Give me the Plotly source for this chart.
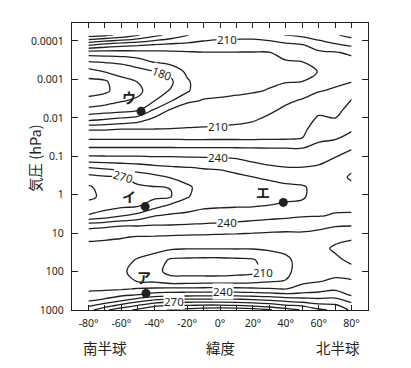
import numpy as np
import plotly.graph_objects as go

# ---------------- data ----------------
latitudes = [-80, -70, -60, -50, -40, -30, -20, -10, 0, 10, 20, 30, 40, 50, 60, 70, 80]
log10_pressure_levels = [-4.15, -3.9, -3.7, -3.45, -3.2, -2.95, -2.7, -2.45, -2.2, -1.95,
                         -1.7, -1.45, -1.2, -0.95, -0.7, -0.45, -0.2, 0.05, 0.3, 0.55,
                         0.8, 1.1, 1.4, 1.7, 2.0, 2.25, 2.45, 2.6, 2.75, 2.9, 3.0]

# temperature (K) profiles, one per latitude, top (low pressure) to bottom
temp_80S = [255, 221.7, 195.3, 179, 165.9, 157.5, 156.7, 162.4, 173.6, 188.2, 209.2, 219.6, 231.3, 242.9, 260.4, 273.9, 281.25, 282.4, 276, 269.1, 243.75, 231.3, 228, 225.8, 225, 225.7, 228.6, 232.2, 238.7, 249.6, 256]
temp_70S = [252, 216.7, 195.5, 180.5, 170.4, 158.5, 158, 165.6, 175, 190.8, 209.3, 219.6, 231.3, 242.6, 258.5, 271.8, 276.3, 277.4, 273.3, 265.8, 242.2, 231, 227.5, 225.5, 225, 226, 228.5, 234, 242.5, 256.7, 268]
temp_60S = [248, 213.3, 196, 181.9, 173.1, 167.4, 164.9, 169.1, 176.7, 193.1, 210.3, 219.6, 231.3, 242.5, 256.7, 270.4, 273.9, 274.7, 271.5, 260.5, 240.5, 230.6, 226, 223, 221.5, 223.5, 229, 237.2, 249.1, 265, 276]
temp_50S = [241, 211.4, 196.7, 185.3, 176.1, 170.3, 167, 171.9, 178.9, 196.25, 210.3, 219.6, 231.3, 242.3, 255, 265.9, 271.6, 273.8, 270.5, 256.2, 240.5, 229.5, 224, 219.25, 217, 219.3, 230.6, 239.5, 255.6, 272.2, 282]
temp_40S = [233, 209.6, 197.4, 190.3, 179.6, 177.3, 177, 179.5, 191.2, 202.9, 210.3, 219.6, 231.3, 241.7, 252.9, 263, 270.4, 272.5, 263.3, 250.3, 239.7, 229.3, 222.3, 216.9, 213.4, 218.5, 231.5, 244, 261.4, 279.5, 287]
temp_30S = [227, 207.9, 198.2, 193.1, 182.3, 178.4, 180.6, 188.9, 201.3, 205.7, 210.4, 219.6, 231.3, 241.6, 251.4, 259.6, 269.8, 270.5, 257.1, 248.3, 239.6, 228.75, 221.25, 208.3, 206.7, 214.6, 232.3, 245, 264, 282.7, 291]
temp_20S = [220.5, 207.2, 199, 195.6, 192.1, 188.8, 188.5, 198.8, 203.2, 206.8, 210.7, 219.3, 231.2, 241.2, 250.5, 257.3, 261.2, 260.8, 255, 247, 239.2, 228.2, 220.5, 207.75, 206.1, 215, 232.3, 245.6, 264.3, 282.2, 294]
temp_10S = [215, 206.7, 199.6, 198, 196.3, 195.5, 197.9, 200.4, 203.7, 207.1, 211, 219.3, 231.2, 240.9, 249.6, 253.6, 257.3, 255.1, 251.6, 246, 238.5, 228, 220.5, 207.4, 205.4, 215.5, 232.5, 246, 264.3, 283.75, 296]
temp_EQ = [213, 206.2, 199.6, 197.3, 195.1, 195.6, 198.1, 200.9, 204.2, 207.4, 211.6, 219.4, 231.2, 240.7, 249.3, 252.6, 255.6, 253.7, 250.9, 245.4, 238, 227.6, 220.5, 207.4, 205.4, 215.5, 232.5, 246, 264.3, 283.75, 297]
temp_10N = [213, 206, 199.6, 197.7, 195.4, 196.4, 198.8, 201.5, 204.7, 207.8, 212.3, 219.4, 231, 239.7, 247.1, 252, 254, 253.3, 250.6, 244.7, 237.2, 227.3, 220.5, 208.1, 206.7, 215.5, 232.5, 246, 263.75, 282.5, 297]
temp_20N = [213, 205.7, 199.6, 198.1, 196.6, 197.3, 199.4, 202.4, 205.7, 209.1, 213.9, 219.3, 230.8, 237.4, 243.9, 250.3, 254.1, 255.1, 250.4, 243.9, 236.2, 227, 220.5, 208.9, 207.6, 216.7, 231.7, 245, 262.5, 280.4, 295]
temp_30N = [215, 206.25, 199.8, 198.9, 198, 199, 200.4, 204.2, 208.3, 212.2, 215.9, 219.6, 230.6, 236, 241.5, 248, 254.3, 255.5, 249.25, 243, 235, 226.7, 221, 215.6, 214, 219, 230.8, 244, 260.5, 277, 291]
temp_40N = [220.5, 207.8, 201.6, 199.6, 199, 199.6, 202.4, 208.3, 211.9, 214.5, 217.1, 219.7, 230.6, 235.3, 240.4, 246, 252.1, 253.4, 247.4, 242.1, 234, 226.7, 221.7, 218.5, 217.6, 220.4, 229.5, 242, 257, 273, 285]
temp_50N = [222, 209.6, 205, 199.8, 199, 199.9, 205.9, 210.9, 213.2, 215.5, 217.7, 220.3, 230.4, 235, 240.4, 246, 251, 251.5, 247, 240.8, 232.6, 228, 225.4, 222.9, 224.7, 228, 233.1, 242.9, 255, 270.5, 279]
temp_60N = [225, 215.3, 208.3, 204.6, 200.1, 205.5, 209.6, 214, 217.9, 221.7, 225.1, 228.6, 232.7, 237.3, 241.2, 244.1, 247, 244.7, 242.3, 240.4, 231.7, 227.3, 224.1, 223.1, 226.6, 229.4, 236, 243.3, 253.3, 264.2, 272]
temp_70N = [229, 218.8, 209.3, 206, 205.2, 208.2, 211.2, 214.3, 217.3, 220.6, 225.3, 229.6, 235, 240.4, 243.9, 247, 245, 243.3, 241.6, 239.3, 230.7, 223.8, 218, 222.9, 227.1, 231.7, 238.3, 245, 253.3, 262.7, 268]
temp_80N = [233, 221.7, 211.6, 207, 206.3, 209.5, 215.1, 220.6, 223.3, 226.1, 228.9, 233.6, 239.5, 244.2, 248.7, 251.1, 248, 245.2, 242.4, 238.6, 230.4, 221.9, 215.1, 217.2, 224.6, 231.1, 235.3, 238.5, 247.3, 254.4, 258]

# labelled isotherms
label_text = ["210", "180", "210", "240", "270", "240", "210", "240", "270"]
label_lat = [4.5, -35, -1, -1.5, -59, 4, 26, 2, -28]
label_log10p = [-4.03, -3.16, -1.78, -0.97, -0.47, 0.73, 2.02, 2.53, 2.79]
label_angle = [0, 20, 0, 0, 15, 0, 0, 0, 0]

# marked points ア イ ウ エ
point_name = ["ア", "イ", "ウ", "エ"]
point_lat = [-45, -45.5, -48, 38.5]
point_log10p = [2.57, 0.31, -2.17, 0.2]
point_name_lat = [-46.5, -55.5, -55.5, 26]
point_name_log10p = [2.13, 0.03, -2.55, -0.08]

x_ticks = [-80, -70, -60, -50, -40, -30, -20, -10, 0, 10, 20, 30, 40, 50, 60, 70, 80]
x_tick_text = ["-80°", "", "-60°", "", "-40°", "", "-20°", "", "0°", "", "20°", "", "40°", "", "60°", "", "80°"]
y_ticks = [1e-4, 1e-3, 1e-2, 1e-1, 1, 10, 100, 1000]
y_tick_text = ["0.0001", "0.001", "0.01", "0.1", "1", "10", "100", "1000"]

# ---------------- figure ----------------
columns = [temp_80S, temp_70S, temp_60S, temp_50S, temp_40S, temp_30S, temp_20S, temp_10S, temp_EQ,
           temp_10N, temp_20N, temp_30N, temp_40N, temp_50N, temp_60N, temp_70N, temp_80N]
z = np.array(columns).T
pressure = [10 ** v for v in log10_pressure_levels]

INK = "#231f20"
fig = go.Figure()
fig.add_trace(go.Contour(
    x=latitudes, y=pressure, z=z,
    contours=dict(coloring="lines", start=150, end=290, size=10, showlabels=False),
    colorscale=[[0, INK], [1, INK]], showscale=False,
    line=dict(width=1.3, smoothing=1.0),
    hoverinfo="skip",
))
fig.add_trace(go.Scatter(
    x=point_lat, y=[10 ** v for v in point_log10p], mode="markers",
    marker=dict(size=9, color=INK), hoverinfo="skip", showlegend=False,
))

annotations = []
for t, la, lp, ang in zip(label_text, label_lat, label_log10p, label_angle):
    annotations.append(dict(x=la, y=lp, xref="x", yref="y", text=t, showarrow=False,
                            textangle=ang, bgcolor="white", borderpad=0,
                            font=dict(family="Noto Sans", size=11.5, color=INK)))
for t, la, lp in zip(point_name, point_name_lat, point_name_log10p):
    annotations.append(dict(x=la, y=lp, xref="x", yref="y", text="<b>" + t + "</b>", showarrow=False,
                            font=dict(family="Noto Sans CJK JP", size=14, color=INK)))
for t, xp in [("南半球", -70), ("緯度", 0), ("北半球", 71.5)]:
    annotations.append(dict(x=xp, y=-0.13, xref="x", yref="paper", text=t, showarrow=False,
                            yanchor="middle",
                            font=dict(family="Noto Sans CJK JP", size=14.5, color=INK)))
annotations.append(dict(x=-0.125, y=0.53, xref="paper", yref="paper", text="気圧 (hPa)",
                        textangle=-90, showarrow=False, xanchor="center", yanchor="middle",
                        font=dict(family="Noto Sans CJK JP", size=14.5, color=INK)))

# the page body adds an 8 px margin, so the figure is 8 px smaller and shifted
fig.update_layout(
    width=403, height=360,
    margin=dict(l=64, r=43, t=15, b=58),
    paper_bgcolor="white", plot_bgcolor="white",
    showlegend=False,
    annotations=annotations,
    font=dict(family="Noto Sans", size=10.5, color=INK),
)
fig.update_xaxes(range=[-90, 90], tickvals=x_ticks, ticktext=x_tick_text,
                 ticks="inside", ticklen=5, tickwidth=1, tickcolor=INK,
                 showline=True, linecolor=INK, linewidth=1.3, mirror="ticks",
                 showgrid=False, zeroline=False, ticklabelstandoff=3)
fig.update_yaxes(type="log", range=[3, -4.468], tickvals=y_ticks, ticktext=y_tick_text,
                 ticks="inside", ticklen=6, tickwidth=1, tickcolor=INK,
                 showline=True, linecolor=INK, linewidth=1.3, mirror="ticks",
                 showgrid=False, zeroline=False, ticklabelstandoff=5)

fig.write_html("out.html")
